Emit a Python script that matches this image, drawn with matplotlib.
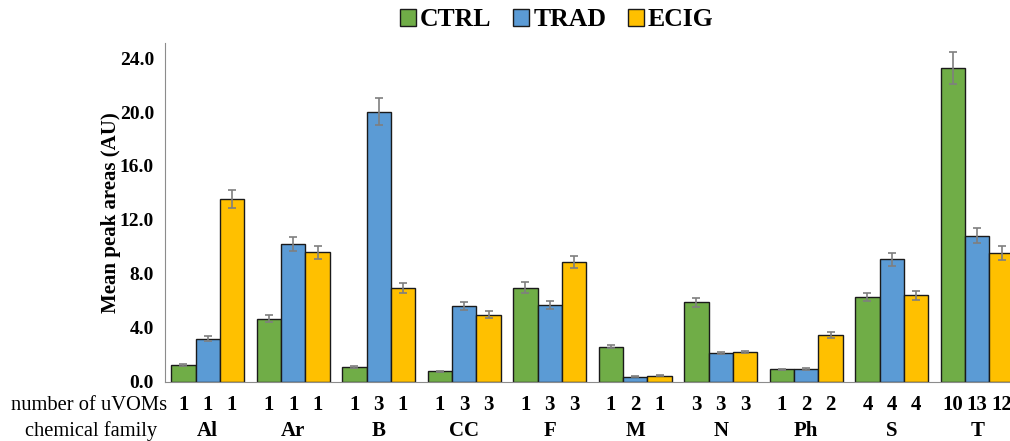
import matplotlib
matplotlib.use("Agg")
import matplotlib.pyplot as plt
import matplotlib.transforms as mtransforms
import numpy as np

plt.rcParams['font.family'] = ['Liberation Serif', 'DejaVu Serif']

families = ["Al", "Ar", "B", "CC", "F", "M", "N", "Ph", "S", "T"]
series = ["CTRL", "TRAD", "ECIG"]

ctrl = [1.23, 4.67, 1.08, 0.76, 6.97, 2.59, 5.88, 0.90, 6.28, 23.29]
trad = [3.16, 10.19, 20.02, 5.59, 5.66, 0.36, 2.14, 0.93, 9.08, 10.83]
ecig = [13.54, 9.60, 6.97, 4.96, 8.86, 0.43, 2.17, 3.45, 6.40, 9.57]

ctrl_err = [0.05, 0.25, 0.05, 0.05, 0.40, 0.10, 0.32, 0.05, 0.32, 1.19]
trad_err = [0.18, 0.52, 0.99, 0.30, 0.30, 0.05, 0.08, 0.05, 0.49, 0.57]
ecig_err = [0.70, 0.49, 0.37, 0.25, 0.45, 0.05, 0.08, 0.20, 0.34, 0.52]

n_ctrl = ["1", "1", "1", "1", "1", "1", "3", "1", "4", "10"]
n_trad = ["1", "1", "3", "3", "3", "2", "3", "2", "4", "13"]
n_ecig = ["1", "1", "1", "3", "3", "1", "3", "2", "4", "12"]

colors = ["#70AD47", "#5B9BD5", "#FFC000"]

W, H = 1010, 441
fig = plt.figure(figsize=(W / 100, H / 100), dpi=100)
ax = fig.add_axes([165 / W, 59.5 / H, 855 / W, 338.2 / H])

x = np.arange(len(families))
bw = 0.284
vals = [ctrl, trad, ecig]
errs = [ctrl_err, trad_err, ecig_err]
for i, (v, e, c, name) in enumerate(zip(vals, errs, colors, series)):
    ax.bar(x + (i - 1) * bw, v, width=bw, color=c, edgecolor="#1a1a1a",
           linewidth=1.0, label=name, zorder=2,
           yerr=e, error_kw=dict(ecolor="#7f7f7f", elinewidth=1.2,
                                 capsize=3, capthick=1.2, zorder=3))

ax.set_xlim(-0.5, 9.5)
ax.set_ylim(0, 25.1)
ax.set_yticks(np.arange(0, 24.1, 4))
ax.set_yticklabels([f"{t:.1f}" for t in np.arange(0, 24.1, 4)],
                   fontsize=14, fontweight="bold")
ax.set_xticks([])
ax.tick_params(axis="y", length=0, pad=8)
for s in ["top", "right"]:
    ax.spines[s].set_visible(False)
ax.spines["left"].set_color("#8c8c8c")
ax.spines["bottom"].set_color("#8c8c8c")
ax.set_ylabel("Mean peak areas (AU)", fontsize=15, fontweight="bold", labelpad=-1)

trans = mtransforms.blended_transform_factory(ax.transData, fig.transFigure)
y_num = 1 - 405 / H
y_fam = 1 - 431 / H
for i, fam in enumerate(families):
    for j, lab in enumerate([n_ctrl[i], n_trad[i], n_ecig[i]]):
        ax.text(x[i] + (j - 1) * bw, y_num, lab, transform=trans, ha="center",
                va="center", fontsize=15, fontweight="bold", clip_on=False)
    ax.text(x[i], y_fam, fam, transform=trans, ha="center", va="center",
            fontsize=15, fontweight="bold", clip_on=False)

fig.text(11 / W, y_num, "number of uVOMs", ha="left", va="center", fontsize=14.8)
fig.text(25 / W, y_fam, "chemical family", ha="left", va="center", fontsize=14.8)

fig.legend(loc="center", bbox_to_anchor=(557 / W, 1 - 20 / H), ncol=3,
           frameon=False, prop=dict(size=18.5, weight="bold"),
           handlelength=0.62, handleheight=0.62, handletextpad=0.15,
           columnspacing=0.85)

fig.savefig("out.png", dpi=100)
